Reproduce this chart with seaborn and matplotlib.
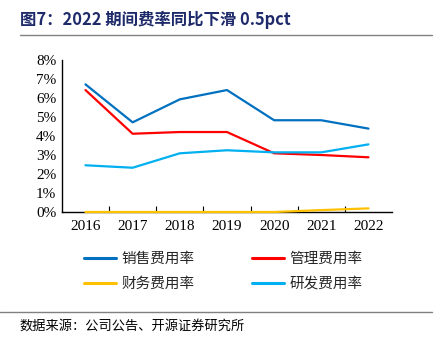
import matplotlib
matplotlib.use("Agg")
import matplotlib.pyplot as plt
from matplotlib.lines import Line2D
from matplotlib.ticker import FixedLocator, PercentFormatter
import seaborn as sns
import pandas as pd

years = [2016, 2017, 2018, 2019, 2020, 2021, 2022]
sales_rate = [6.72, 4.72, 5.93, 6.42, 4.83, 4.83, 4.39]
admin_rate = [6.42, 4.12, 4.21, 4.21, 3.09, 3.00, 2.88]
finance_rate = [0.00, 0.00, 0.00, 0.00, 0.00, 0.10, 0.19]
rd_rate = [2.46, 2.33, 3.09, 3.25, 3.14, 3.14, 3.56]

series_names = ["销售费用率", "管理费用率", "财务费用率", "研发费用率"]
series_values = [sales_rate, admin_rate, finance_rate, rd_rate]
colors = ["#0070C0", "#FF0000", "#FFC000", "#00B0F0"]

rows = []
for name, vals in zip(series_names, series_values):
    for y, v in zip(years, vals):
        rows.append({"year": y, "rate": v, "series": name})
df = pd.DataFrame(rows)

sns.set_theme(style="white")
plt.rcParams["font.family"] = ["Noto Sans CJK SC", "DejaVu Sans"]

fig = plt.figure(figsize=(4.42, 3.45), dpi=100)
ax = fig.add_axes([0.140, 0.3855, 0.747, 0.4405])

sns.lineplot(data=df, x="year", y="rate", hue="series", hue_order=series_names,
             palette=colors, linewidth=1.6, ax=ax, legend=False)
for ln in ax.lines:
    ln.set_zorder(3)
    ln.set_clip_on(False)

ax.set_xlim(2015.5, 2022.5)
ax.set_ylim(0, 8)
ax.set_xlabel("")
ax.set_ylabel("")

serif = ["Liberation Serif", "DejaVu Serif"]
ax.xaxis.set_major_locator(FixedLocator(years))
ax.xaxis.set_minor_locator(FixedLocator([y + 0.5 for y in years[:-1]]))
ax.set_yticks(range(0, 9))
ax.yaxis.set_major_formatter(PercentFormatter(decimals=0))
for lab in ax.get_xticklabels() + ax.get_yticklabels():
    lab.set_fontfamily(serif)
    lab.set_fontsize(11)
ax.tick_params(axis="x", which="major", length=0, pad=6, colors="black")
ax.tick_params(axis="x", which="minor", bottom=True, length=4, direction="in",
               width=0.8, color="black")
ax.tick_params(axis="y", which="major", length=4, direction="in", width=0.8,
               pad=4, colors="black")

for side in ["top", "right"]:
    ax.spines[side].set_visible(False)
for side in ["left", "bottom"]:
    ax.spines[side].set_color("black")
    ax.spines[side].set_linewidth(1.0)

# legend fills column-wise, so order the handles to read row by row
order = [0, 2, 1, 3]
handles = [Line2D([0], [0], color=colors[i], linewidth=2.2) for i in order]
labels = [series_names[i] for i in order]
fig.legend(handles, labels, ncol=2, loc="center",
           bbox_to_anchor=(0.505, 0.213), frameon=False, fontsize=10.5,
           handlelength=2.2, handletextpad=0.4, columnspacing=3.9,
           labelspacing=0.75)

fig.text(0.045, 0.942, "图7：2022 期间费率同比下滑 0.5pct", fontsize=11.8,
         fontweight="bold", color="#1F2A6B", va="center", ha="left")
fig.add_artist(Line2D([0.045, 0.978], [0.898, 0.898], color="#808080", linewidth=1.0))
fig.add_artist(Line2D([0.0, 0.978], [0.096, 0.096], color="#808080", linewidth=1.0))
fig.text(0.045, 0.055, "数据来源：公司公告、开源证券研究所", fontsize=9.5,
         color="black", va="center", ha="left")

fig.savefig("out.png", dpi=100)
